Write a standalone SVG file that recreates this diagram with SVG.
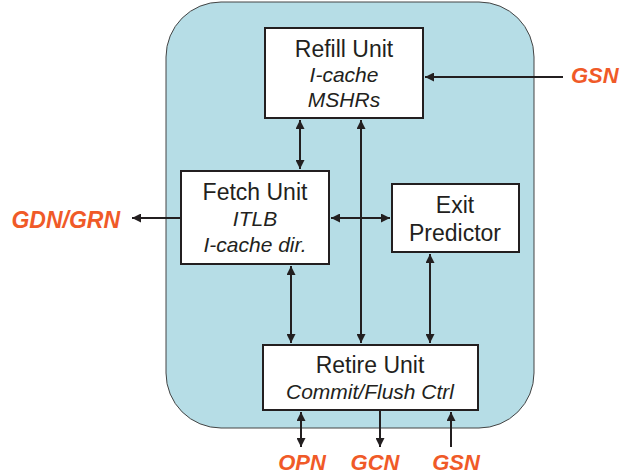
<svg xmlns="http://www.w3.org/2000/svg" width="620" height="475" viewBox="0 0 620 475">
<defs>
<marker id="ah" viewBox="0 0 10 10" refX="10" refY="5" markerWidth="10" markerHeight="9" markerUnits="userSpaceOnUse" orient="auto-start-reverse">
<path d="M0,0 L10,5 L0,10 z" fill="#231f20"/>
</marker>
<style>
.box{fill:#fff;stroke:#231f20;stroke-width:2}
.t{font-family:"Liberation Sans",Arial,sans-serif;font-size:23px;fill:#231f20;text-anchor:middle}
.i{font-style:italic;font-size:21px}
.o{font-family:"Liberation Sans",Arial,sans-serif;font-size:22px;font-weight:bold;font-style:italic;fill:#f05a28}
.c{stroke:#231f20;stroke-width:2;fill:none}
</style>
</defs>
<rect x="166" y="2" width="368" height="426" rx="55" ry="55" fill="#b6dde6" stroke="#444" stroke-width="1"/>
<g id="connectors">
<line class="c" x1="300" y1="120" x2="300" y2="169" marker-start="url(#ah)" marker-end="url(#ah)"/>
<line class="c" x1="361" y1="120" x2="361" y2="343" marker-start="url(#ah)" marker-end="url(#ah)"/>
<line class="c" x1="331" y1="218" x2="390" y2="218" marker-start="url(#ah)" marker-end="url(#ah)"/>
<line class="c" x1="291" y1="266" x2="291" y2="343" marker-start="url(#ah)" marker-end="url(#ah)"/>
<line class="c" x1="430" y1="254" x2="430" y2="343" marker-start="url(#ah)" marker-end="url(#ah)"/>
<line class="c" x1="563" y1="77" x2="425" y2="77" marker-end="url(#ah)"/>
<line class="c" x1="180" y1="218" x2="132" y2="218" marker-end="url(#ah)"/>
<line class="c" x1="301" y1="412" x2="301" y2="447" marker-start="url(#ah)" marker-end="url(#ah)"/>
<line class="c" x1="380" y1="410" x2="380" y2="447" marker-end="url(#ah)"/>
<line class="c" x1="451" y1="447" x2="451" y2="412" marker-end="url(#ah)"/>
</g>
<g id="refill">
<rect class="box" x="265" y="28" width="158" height="90"/>
<text class="t" x="344" y="57">Refill Unit</text>
<text class="t i" x="344" y="82">I-cache</text>
<text class="t i" x="344" y="107">MSHRs</text>
</g>
<g id="fetch">
<rect class="box" x="181" y="171" width="148" height="93"/>
<text class="t" x="255" y="200">Fetch Unit</text>
<text class="t i" x="255" y="226">ITLB</text>
<text class="t i" x="255" y="252">I-cache dir.</text>
</g>
<g id="exit">
<rect class="box" x="392" y="184" width="127" height="68"/>
<text class="t" x="455" y="213">Exit</text>
<text class="t" x="455" y="241">Predictor</text>
</g>
<g id="retire">
<rect class="box" x="263" y="345" width="215" height="65"/>
<text class="t" x="370" y="373">Retire Unit</text>
<text class="t i" x="370" y="399">Commit/Flush Ctrl</text>
</g>
<g id="labels">
<text class="o" x="571" y="83">GSN</text>
<text class="o" x="120" y="228" text-anchor="end" style="font-size:23px">GDN/GRN</text>
<text class="o" x="302" y="470" text-anchor="middle">OPN</text>
<text class="o" x="375" y="470" text-anchor="middle">GCN</text>
<text class="o" x="456" y="470" text-anchor="middle">GSN</text>
</g>
</svg>
